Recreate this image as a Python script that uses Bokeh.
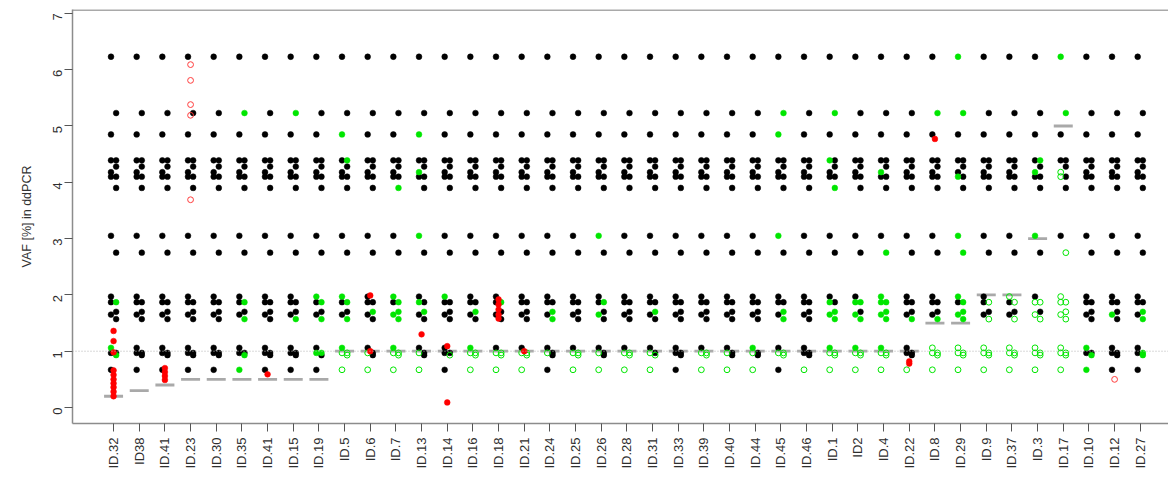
import math
from bokeh.plotting import figure
from bokeh.models import FixedTicker, Span, Range1d
from bokeh.embed import file_html
from bokeh.resources import INLINE

# ---------------- data ----------------
sample_ids = ["ID.32", "ID38", "ID.41", "ID.23", "ID.30", "ID.35", "ID.41", "ID.15", "ID.19",
              "ID.5", "ID.6", "ID.7", "ID.13", "ID.14", "ID.16", "ID.18", "ID.21", "ID.24",
              "ID.25", "ID.26", "ID.28", "ID.31", "ID.33", "ID.39", "ID.40", "ID.44", "ID.45",
              "ID.46", "ID.1", "ID2", "ID.4", "ID.22", "ID.8", "ID.29", "ID.9", "ID.37",
              "ID.3", "ID.17", "ID.10", "ID.12", "ID.27"]

# reference VAF values measured for every sample, with their jitter side
ref_vaf = [6.23, 5.23, 4.85, 4.39, 4.39, 4.28, 4.18, 4.10, 4.10, 3.90, 3.05, 2.75,
           1.97, 1.87, 1.87, 1.70, 1.65, 1.57, 1.06, 0.97, 0.97, 0.93, 0.67]
ref_side = "LRLLRRLLRRLRLLRRLRLLRRL"

# status of each reference value per sample: k = not found, g = found, o = found below LOD
ref_status = [
    "kkkkkkkkkkkkkkgkkkgkkgk",  # ID.32
    "kkkkkkkkkkkkkkkkkkkkkkk",  # ID38
    "kkkkkkkkkkkkkkkkkkkkkkk",  # ID.41
    "kkkkkkkkkkkkkkkkkkkkkkk",  # ID.23
    "kkkkkkkkkkkkkkkkkkkkkkk",  # ID.30
    "kgkkkkkkkkkkkkgkkgkkkgg",  # ID.35
    "kkkkkkkkkkkkkkkkkkkkkkk",  # ID.41
    "kgkkkkkkkkkkkkkkkgkkkkk",  # ID.15
    "kkkkkkkkkkkkgkgkkgkggkk",  # ID.19
    "kkgkgkkkkkkkgkgkkggoooo",  # ID.5
    "kkkkkkkkkkkkkkkgkkkokko",  # ID.6
    "kkkkkkkkkgkkgkgggggoooo",  # ID.7
    "kkgkkkgkkkgkkgkgkkkokko",  # ID.13
    "kkkkkkkkkkkkgkkkkkkkkok",  # ID.14
    "kkkkkkkkkkkkkkkgkkgoooo",  # ID.16
    "kkkkkkkkkkkkkkgkkkkoooo",  # ID.18
    "kkkkkkkkkkkkkkkkkkkoooo",  # ID.21
    "kkkkkkkkkkkkkkkgkgkokkk",  # ID.24
    "kkkkkkkkkkkkkkkkkkkoooo",  # ID.25
    "kkkkkkkkkkgkkkgkgkkokko",  # ID.26
    "kkkkkkkkkkkkkkkkkkkoooo",  # ID.28
    "kkkkkkkkkkkkkkkgkkkokoo",  # ID.31
    "kkkkkkkkkkkkkkkkkkkkkkk",  # ID.33
    "kkkkkkkkkkkkkkkkkkkoooo",  # ID.39
    "kkkkkkkkkkkkkkkkkkkokko",  # ID.40
    "kkkkkkkkkkkkkkkkkkgokko",  # ID.44
    "kggkkkkkkkgkkkkgkgkoook",  # ID.45
    "kkkkkkkkkkkkkkkkkkkkkko",  # ID.46
    "kgkgkkkkkgkkkgkggggoooo",  # ID.1
    "kkkkkkkkkkkkkggkgggoooo",  # ID2
    "kkkkkkgkkkkggggggggoooo",  # ID.4
    "kkkkkkkkkkkkkkkkkgkkkko",  # ID.22
    "kgkkkkkkkkkkkkkkkgooooo",  # ID.8
    "ggkkkkkgkkgggkggggooooo",  # ID.29
    "kkkkkkkkkkkkkkokkoooooo",  # ID.9
    "kkkkkkkkkkkkokokkoooooo",  # ID.37
    "kkkkgkgkkkgkkookooooooo",  # ID.3
    "ggkkkkookkkoooooooooooo",  # ID.17
    "kkkkkkkkkkkkkkkkkkgkkgg",  # ID.10
    "kkkkkkkkkkkkkkkkgkkkkkk",  # ID.12
    "kkkkkkkkkkkkkkkgkgkkggk",  # ID.27
]

# limit of detection per sample (None = not shown)
lod = [0.2, 0.3, 0.4, 0.5, 0.5, 0.5, 0.5, 0.5, 0.5,
       1.0, 1.0, 1.0, 1.0, 1.0, 1.0, 1.0, 1.0, 1.0, 1.0, 1.0, 1.0, 1.0, 1.0, 1.0, 1.0, 1.0,
       1.0, 1.0, 1.0, 1.0, 1.0, 1.0,
       1.5, 1.5, 2.0, 2.0, 3.0, 5.0, None, None, None]

# patient-specific measurements (sample position, VAF)
own_pos = [1, 1, 1, 1, 1, 1, 1, 1, 1, 1, 3, 3, 3, 3, 7, 11, 11, 13, 14, 14,
           16, 16, 16, 16, 16, 17, 32, 32, 33]
own_vaf = [1.36, 1.18, 0.98, 0.66, 0.58, 0.50, 0.43, 0.36, 0.28, 0.20,
           0.70, 0.63, 0.56, 0.49, 0.59, 1.99, 1.00, 1.30, 1.09, 0.09,
           1.92, 1.83, 1.74, 1.65, 1.58, 1.00, 0.82, 0.78, 4.77]
own_open_pos = [4, 4, 4, 4, 4, 40]
own_open_vaf = [6.09, 5.81, 5.38, 5.19, 3.69, 0.50]

y_ticks = [0, 1, 2, 3, 4, 5, 6, 7]

# ---------------- build ----------------
for s in ref_status:
    assert len(s) == len(ref_vaf), s

side_shift = {"L": -0.1, "R": 0.1}
groups = {"k": ([], []), "g": ([], []), "o": ([], [])}
for i, st in enumerate(ref_status):
    pos = i + 1
    for j, code in enumerate(st):
        groups[code][0].append(pos + side_shift[ref_side[j]])
        groups[code][1].append(ref_vaf[j])

W, H = 1168, 475
p = figure(width=W, height=H, output_backend="svg", toolbar_location=None,
           x_range=Range1d(-0.6, 42.1), y_range=Range1d(-0.284, 7.069),
           min_border_left=72, min_border_right=0, min_border_top=9, min_border_bottom=52,
           background_fill_color="white", border_fill_color="white")
p.outline_line_color = None
p.grid.visible = False

FONT = "Liberation Sans"
AX = "#8c8c8c"

p.xaxis.ticker = FixedTicker(ticks=list(range(1, len(sample_ids) + 1)))
p.xaxis.major_label_overrides = {i + 1: s for i, s in enumerate(sample_ids)}
p.xaxis.major_label_orientation = math.pi / 2
p.yaxis.ticker = FixedTicker(ticks=y_ticks)
p.yaxis.major_label_orientation = math.pi / 2
p.yaxis.axis_label = "VAF [%] in ddPCR"
p.yaxis.axis_label_text_font = FONT
p.yaxis.axis_label_text_font_style = "normal"
p.yaxis.axis_label_text_font_size = "12.5px"
p.yaxis.axis_label_text_color = "#333333"
p.yaxis.axis_label_standoff = 12
for ax in (p.xaxis, p.yaxis):
    ax.axis_line_color = AX
    ax.axis_line_width = 1.5
    ax.major_tick_line_color = "#555555"
    ax.major_tick_in = 0
    ax.major_tick_out = 8
    ax.minor_tick_line_color = None
    ax.major_label_text_font = FONT
    ax.major_label_text_font_size = "13px"
    ax.major_label_text_color = "#2e2e2e"
p.xaxis.major_label_standoff = 6
p.yaxis.major_label_standoff = 7

# top border of box
p.add_layout(Span(location=7.058, dimension="width", line_color=AX, line_width=1.5))
# reference line at 1 %
p.add_layout(Span(location=1.0, dimension="width", line_color="#b4b4b4",
                  line_dash="1 2", line_width=1))

# LOD bars
bx0, bx1, by = [], [], []
for i, v in enumerate(lod):
    if v is not None:
        bx0.append(i + 1 - 0.37)
        bx1.append(i + 1 + 0.37)
        by.append(v)
p.segment(x0=bx0, x1=bx1, y0=by, y1=by, line_color="#a9a9a9", line_width=2.8)

GREEN = "#00e600"
SZ = 5.8
p.scatter(groups["k"][0], groups["k"][1], size=SZ, fill_color="black", line_color="black", line_width=0.5)
p.scatter(groups["g"][0], groups["g"][1], size=SZ, fill_color=GREEN, line_color=GREEN, line_width=0.5)
p.scatter(groups["o"][0], groups["o"][1], size=SZ, fill_color=None, line_color=GREEN, line_width=1.0)
p.scatter(own_pos, own_vaf, size=SZ, fill_color="#ff0000", line_color="#ff0000", line_width=0.5)
p.scatter(own_open_pos, own_open_vaf, size=SZ, fill_color=None, line_color="#ff3c3c", line_width=1.0)

open("out.html", "w").write(file_html(p, INLINE))
